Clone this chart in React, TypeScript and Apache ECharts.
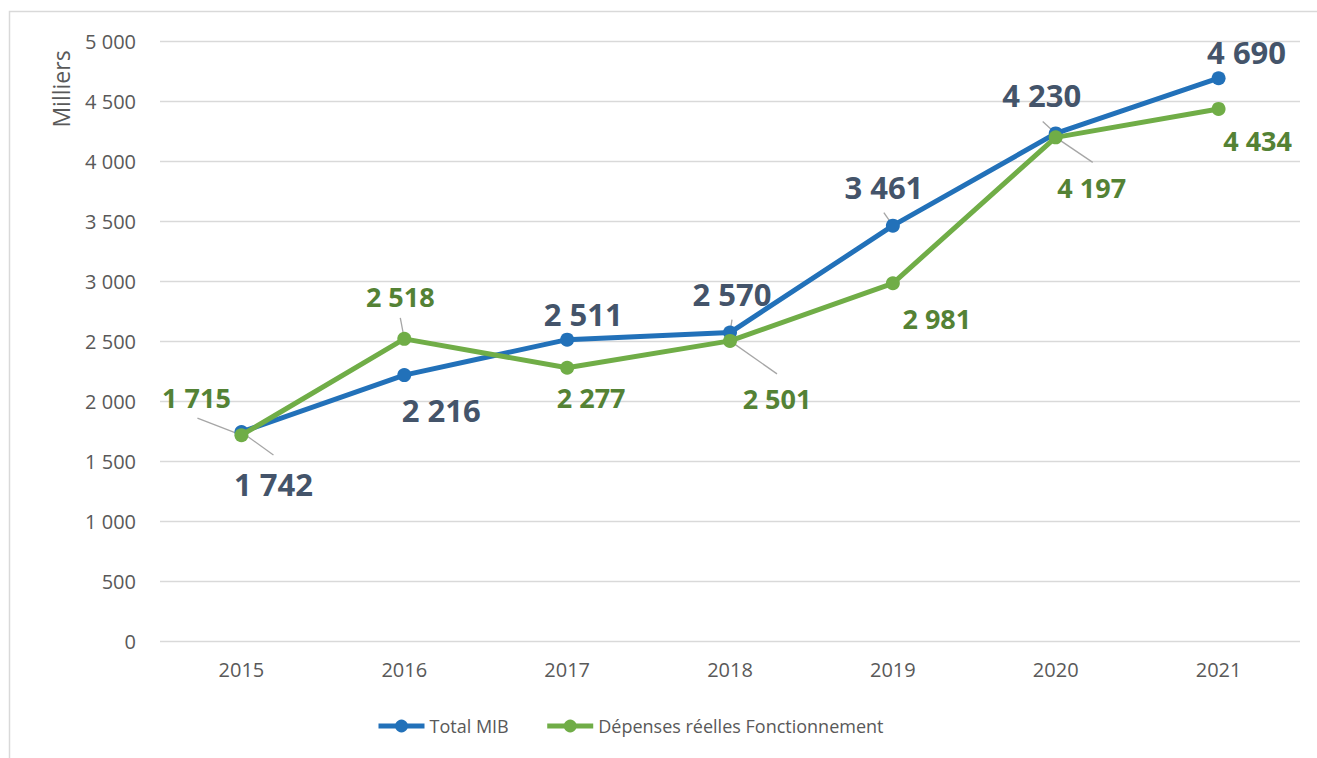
import React, { useEffect, useRef } from "react";
import * as echarts from "echarts";

const years = ["2015", "2016", "2017", "2018", "2019", "2020", "2021"];
const totalMib = [1742, 2216, 2511, 2570, 3461, 4230, 4690];
const depenses = [1715, 2518, 2277, 2501, 2981, 4197, 4434];
const seriesNames = ["Total MIB", "Dépenses réelles Fonctionnement"];
const yAxisName = "Milliers";
const yMin = 0;
const yMax = 5000;
const yStep = 500;

// label layout (pixel offsets of each data label centre from its point)
const totalLabelOffsets = [[32, 52], [37, 35], [16, -26], [2, -39], [-9, -39], [-14, -38], [28, -26]];
const depLabelOffsets = [[-45, -38], [-4, -42], [24, 30], [47, 58], [44, 35], [36, 50], [39, 32]];
// leader line end (pixel offset from point), null = no leader line
const totalLeaderEnds: (number[] | null)[] = [[32, 23], null, null, [2, -13], [-9, -13], [-13, -12], null];
const depLeaderEnds: (number[] | null)[] = [[-44, -17], [-4, -21], null, [47, 33], null, [37, 25], null];

const FONT = "'Open Sans', 'Noto Sans', sans-serif";
const BLUE = "#2271B9";
const GREEN = "#70AD47";
const BLUE_LABEL = "#44546A";
const GREEN_LABEL = "#548235";
const LEADER = "#A6A6A6";

const fmt = (v: number) => String(v).replace(/\B(?=(\d{3})+(?!\d))/g, " ");

export default function App() {
  const ref = useRef<HTMLDivElement>(null);
  useEffect(() => {
    if (!ref.current) return;
    const chart = echarts.init(ref.current, undefined, { renderer: "svg" });

    const leaderData: number[][] = [];
    totalMib.forEach((v, i) => {
      const e = totalLeaderEnds[i];
      if (e) leaderData.push([i, v, e[0], e[1]]);
    });
    depenses.forEach((v, i) => {
      const e = depLeaderEnds[i];
      if (e) leaderData.push([i, v, e[0], e[1]]);
    });

    chart.setOption({
      animation: false,
      backgroundColor: "#ffffff",
      textStyle: { fontFamily: FONT },
      grid: { left: 160, right: 17, top: 41, bottom: 117, containLabel: false },
      graphic: [
        {
          type: "rect",
          shape: { x: 9.5, y: 11.5, width: 1400, height: 800 },
          style: { fill: "none", stroke: "#D9D9D9", lineWidth: 1.5 },
          silent: true,
        },
        {
          type: "text",
          x: 61,
          y: 89,
          rotation: Math.PI / 2,
          style: {
            text: yAxisName,
            fill: "#595959",
            fontSize: 23,
            fontFamily: FONT,
            align: "center",
            verticalAlign: "middle",
          },
        },
      ],
      legend: {
        left: 376,
        top: 717,
        padding: 0,
        itemWidth: 46,
        itemHeight: 16,
        itemGap: 36,
        lineStyle: { width: 5 },
        textStyle: { color: "#595959", fontSize: 18, fontFamily: FONT },
        data: seriesNames,
      },
      xAxis: {
        type: "category",
        data: years,
        boundaryGap: true,
        axisLine: { show: false },
        axisTick: { show: false },
        axisLabel: { color: "#595959", fontSize: 20, fontFamily: FONT, margin: 18 },
      },
      yAxis: {
        type: "value",
        min: yMin,
        max: yMax,
        interval: yStep,
        axisLine: { show: false },
        axisTick: { show: false },
        axisLabel: {
          color: "#595959",
          fontSize: 20,
          fontFamily: FONT,
          margin: 24,
          formatter: (v: number) => fmt(v),
        },
        splitLine: { lineStyle: { color: "#D9D9D9", width: 1.3 } },
      },
      series: [
        {
          name: "leaders",
          type: "custom",
          data: leaderData,
          silent: true,
          z: 1,
          renderItem: (params: any, api: any) => {
            const p = api.coord([api.value(0), api.value(1)]);
            return {
              type: "line",
              shape: { x1: p[0], y1: p[1], x2: p[0] + api.value(2), y2: p[1] + api.value(3) },
              style: { stroke: LEADER, lineWidth: 1.3 },
            };
          },
        },
        {
          name: seriesNames[0],
          type: "line",
          data: totalMib,
          symbol: "circle",
          symbolSize: 14,
          lineStyle: { color: BLUE, width: 5 },
          itemStyle: { color: BLUE },
          label: {
            show: true,
            position: "inside",
            color: BLUE_LABEL,
            fontSize: 31,
            fontWeight: "bold",
            fontFamily: FONT,
            formatter: (p: any) => fmt(p.value),
          },
          labelLayout: (p: any) => ({
            dx: totalLabelOffsets[p.dataIndex][0],
            dy: totalLabelOffsets[p.dataIndex][1],
          }),
          z: 2,
        },
        {
          name: seriesNames[1],
          type: "line",
          data: depenses,
          symbol: "circle",
          symbolSize: 14,
          lineStyle: { color: GREEN, width: 5 },
          itemStyle: { color: GREEN },
          label: {
            show: true,
            position: "inside",
            color: GREEN_LABEL,
            fontSize: 27,
            fontWeight: "bold",
            fontFamily: FONT,
            formatter: (p: any) => fmt(p.value),
          },
          labelLayout: (p: any) => ({
            dx: depLabelOffsets[p.dataIndex][0],
            dy: depLabelOffsets[p.dataIndex][1],
          }),
          z: 3,
        },
      ],
    });
    return () => chart.dispose();
  }, []);
  return (
    <div
      ref={ref}
      style={{ position: "fixed", left: 0, top: 0, width: 1317, height: 758, background: "#fff" }}
    />
  );
}
